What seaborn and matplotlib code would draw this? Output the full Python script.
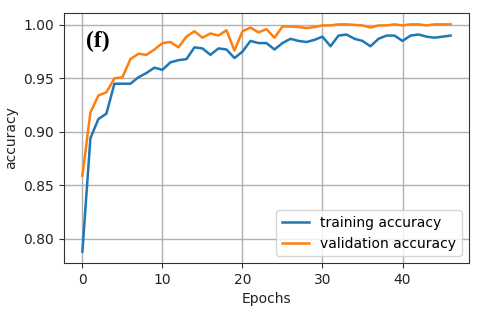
import numpy as np
import pandas as pd
import matplotlib
matplotlib.use("Agg")
import matplotlib.pyplot as plt
import seaborn as sns

epochs = list(range(47))
training_accuracy = [
    0.788, 0.894, 0.912, 0.917, 0.945, 0.945, 0.945, 0.951, 0.955, 0.960,
    0.958, 0.965, 0.967, 0.968, 0.979, 0.978, 0.972, 0.978, 0.977, 0.969,
    0.975, 0.985, 0.983, 0.983, 0.977, 0.983, 0.987, 0.985, 0.984, 0.986,
    0.989, 0.980, 0.990, 0.991, 0.987, 0.985, 0.980, 0.987, 0.990, 0.990,
    0.985, 0.990, 0.991, 0.989, 0.988, 0.989, 0.990,
]
validation_accuracy = [
    0.859, 0.918, 0.934, 0.937, 0.950, 0.951, 0.968, 0.973, 0.972, 0.977,
    0.983, 0.984, 0.979, 0.989, 0.994, 0.988, 0.992, 0.990, 0.995, 0.976,
    0.994, 0.9975, 0.993, 0.996, 0.988, 0.9985, 0.9985, 0.998, 0.997, 0.998,
    0.9995, 0.9995, 1.0005, 1.0005, 1.000, 0.9995, 0.9975, 0.9995, 0.9995, 1.0005,
    0.9995, 1.0005, 1.0005, 0.9995, 1.0005, 1.0005, 1.0005,
]
series_names = ["training accuracy", "validation accuracy"]
x_ticks = [0, 10, 20, 30, 40]
y_ticks = [0.80, 0.85, 0.90, 0.95, 1.00]
panel_label = "(f)"

df = pd.DataFrame({
    "Epochs": epochs * 2,
    "accuracy": training_accuracy + validation_accuracy,
    "series": [series_names[0]] * len(epochs) + [series_names[1]] * len(epochs),
})

plt.rcParams.update(plt.rcParamsDefault)
plt.rcParams["font.family"] = ["DejaVu Sans"]

fig = plt.figure(figsize=(4.8, 3.16), dpi=100)
ax = fig.add_axes([0.1333, 0.1677, 0.8437, 0.7912])

sns.lineplot(data=df, x="Epochs", y="accuracy", hue="series",
             palette=["#1f77b4", "#ff7f0e"], linewidth=1.8, ax=ax)

ax.set_xticks(x_ticks)
ax.set_yticks(y_ticks)
ax.set_yticklabels([f"{v:.2f}" for v in y_ticks])
ax.tick_params(labelsize=10, colors="#333333", labelcolor="#222222")
ax.grid(True, color="#b0b0b0", linewidth=1.0)
ax.set_axisbelow(True)
for s in ax.spines.values():
    s.set_color("#333333")
ax.set_xlabel("Epochs", fontsize=10, color="#222222")
ax.set_ylabel("accuracy", fontsize=10, color="#222222")
ax.margins(x=0.05, y=0.05)

leg = ax.legend(loc="lower right", fontsize=10, frameon=True)
leg.set_title(None)

ax.text(0.055, 0.93, panel_label, transform=ax.transAxes, ha="left", va="top",
        fontsize=17, fontweight="bold", family=["Liberation Serif"])

fig.savefig("out.png", dpi=100)
